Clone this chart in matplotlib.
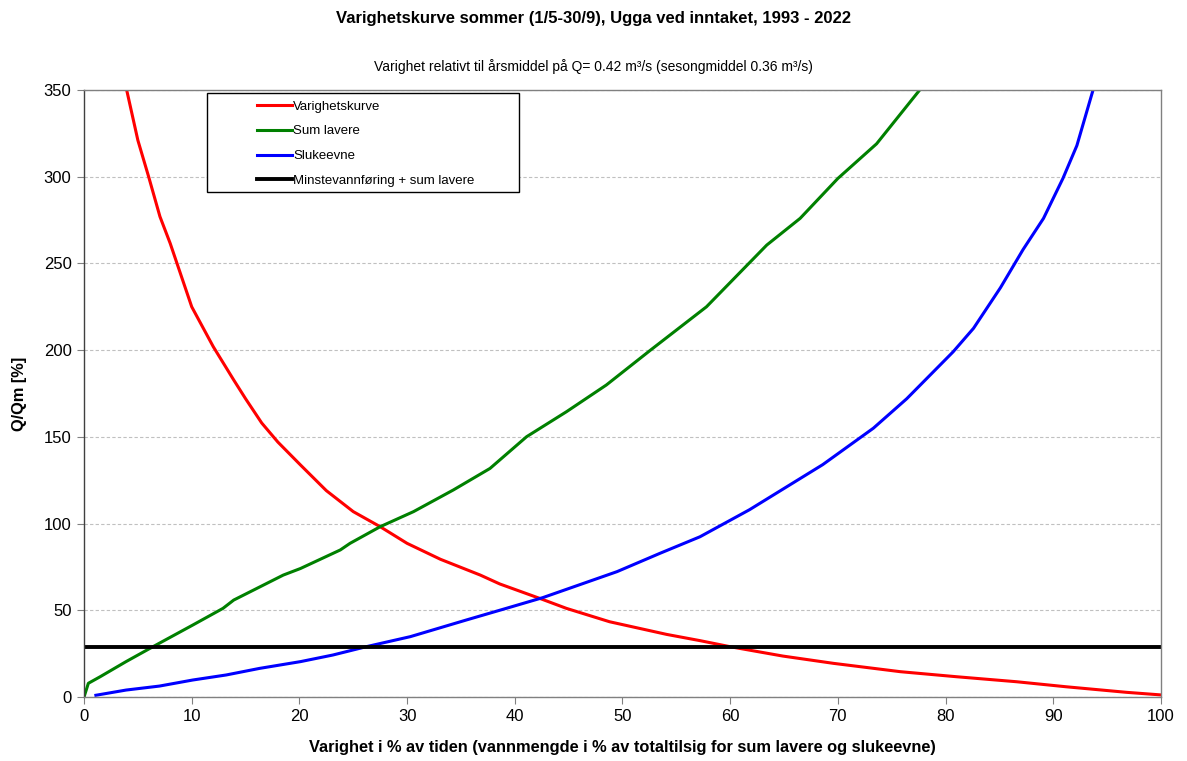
import matplotlib.pyplot as plt
from matplotlib.patches import Rectangle

plt.rcParams['font.family'] = ['Liberation Sans', 'DejaVu Sans']

# Varighetskurve (red)
red_x = [3.96, 5.0, 6.0, 7.05, 8.0, 10.0, 12.0, 13.9, 15.0, 16.5, 18.0, 20.1, 22.5, 25.0, 27.5,
         30.0, 33.1, 36.8, 38.6, 42.3, 44.8, 48.8, 54.1, 57.2, 60.0, 64.9, 69.6, 75.8, 81.0,
         86.6, 91.2, 96.8, 100.0]
red_y = [350, 321, 300, 277, 261.6, 225, 202, 182.8, 172, 158, 147, 133.8, 119, 106.9, 98.2,
         88.6, 79.4, 70.3, 65.2, 56.9, 51.1, 43.4, 36.1, 32.5, 29.0, 23.6, 19.4, 14.6, 11.7,
         8.8, 5.9, 2.7, 1.2]

# Sum lavere (green)
green_x = [0.0, 0.4, 1.5, 3.9, 6.4, 10.1, 12.9, 13.9, 18.5, 20.1, 23.8, 24.7, 27.5, 30.6, 34.3,
           37.7, 41.1, 44.8, 48.5, 52.6, 57.8, 63.4, 66.5, 70.0, 73.6, 77.6]
green_y = [0.0, 7.9, 11.7, 20.4, 29.0, 41.5, 51.1, 55.9, 70.3, 74.1, 84.8, 88.6, 98.2, 106.9, 119.4,
           131.8, 150.1, 164.5, 179.9, 200.0, 225.0, 260.6, 276.0, 299.0, 319.0, 350.0]

# Slukeevne (blue)
blue_x = [1.1, 3.9, 7.0, 10.1, 13.2, 16.3, 20.1, 23.1, 26.2, 30.3, 35.5, 39.2, 42.6, 49.5, 53.5,
          57.2, 61.8, 68.6, 73.3, 76.4, 80.7, 82.6, 85.1, 87.2, 89.1, 90.9, 92.2, 93.7]
blue_y = [1.0, 4.0, 6.3, 9.8, 12.7, 16.5, 20.4, 24.2, 29.0, 34.8, 44.4, 51.1, 57.3, 72.3, 82.9,
          92.4, 108.0, 134.0, 155.0, 172.0, 199.0, 212.6, 236.0, 258.0, 276.0, 299.0, 318.0, 350.0]

# Minstevannføring + sum lavere (black)
min_x = [0, 100]
min_y = [29, 29]

fig = plt.figure(figsize=(11.87, 7.61), dpi=100)
ax = fig.add_axes([0.0708, 0.0841, 0.9072, 0.7976])

ax.plot(red_x, red_y, color='#FF0000', lw=2.2, label='Varighetskurve')
ax.plot(green_x, green_y, color='#008000', lw=2.2, label='Sum lavere')
ax.plot(blue_x, blue_y, color='#0000FF', lw=2.2, label='Slukeevne')
ax.plot(min_x, min_y, color='black', lw=2.8, label='Minstevannføring + sum lavere')

ax.set_xlim(0, 100)
ax.set_ylim(0, 350)
ax.set_xticks(range(0, 101, 10))
ax.set_yticks(range(0, 351, 50))
ax.yaxis.grid(True, color='#C0C0C0', linestyle=(0, (3, 2)), linewidth=0.8)
ax.set_axisbelow(True)
for s in ax.spines.values():
    s.set_color('#808080')
    s.set_linewidth(1.0)
ax.spines['left'].set_color('#404040')
ax.tick_params(direction='out', length=5, color='#808080', labelsize=12, pad=4)

ax.set_xlabel('Varighet i % av tiden (vannmengde i % av totaltilsig for sum lavere og slukeevne)',
              fontsize=11.8, fontweight='bold', labelpad=11)
ax.set_ylabel('Q/Qm [%]', fontsize=11.8, fontweight='bold', labelpad=12)

fig.text(0.5, 0.976, 'Varighetskurve sommer (1/5-30/9), Ugga ved inntaket, 1993 - 2022',
         ha='center', va='center', fontsize=12, fontweight='bold')
fig.text(0.5, 0.913, 'Varighet relativt til årsmiddel på Q= 0.42 m³/s (sesongmiddel 0.36 m³/s)',
         ha='center', va='center', fontsize=10)

# legend frame and entries
ax.add_patch(Rectangle((0.114, 0.832), 0.29, 0.1631, transform=ax.transAxes,
                       facecolor='white', edgecolor='black', lw=1.0, zorder=5))
leg = ax.legend(loc='upper left', bbox_to_anchor=(0.1506, 1.0003), frameon=False,
                fontsize=9.5, handlelength=2.65, handletextpad=0.1, labelspacing=0.95,
                borderpad=0.3)
leg.set_zorder(6)

fig.savefig('out.png', dpi=100)
